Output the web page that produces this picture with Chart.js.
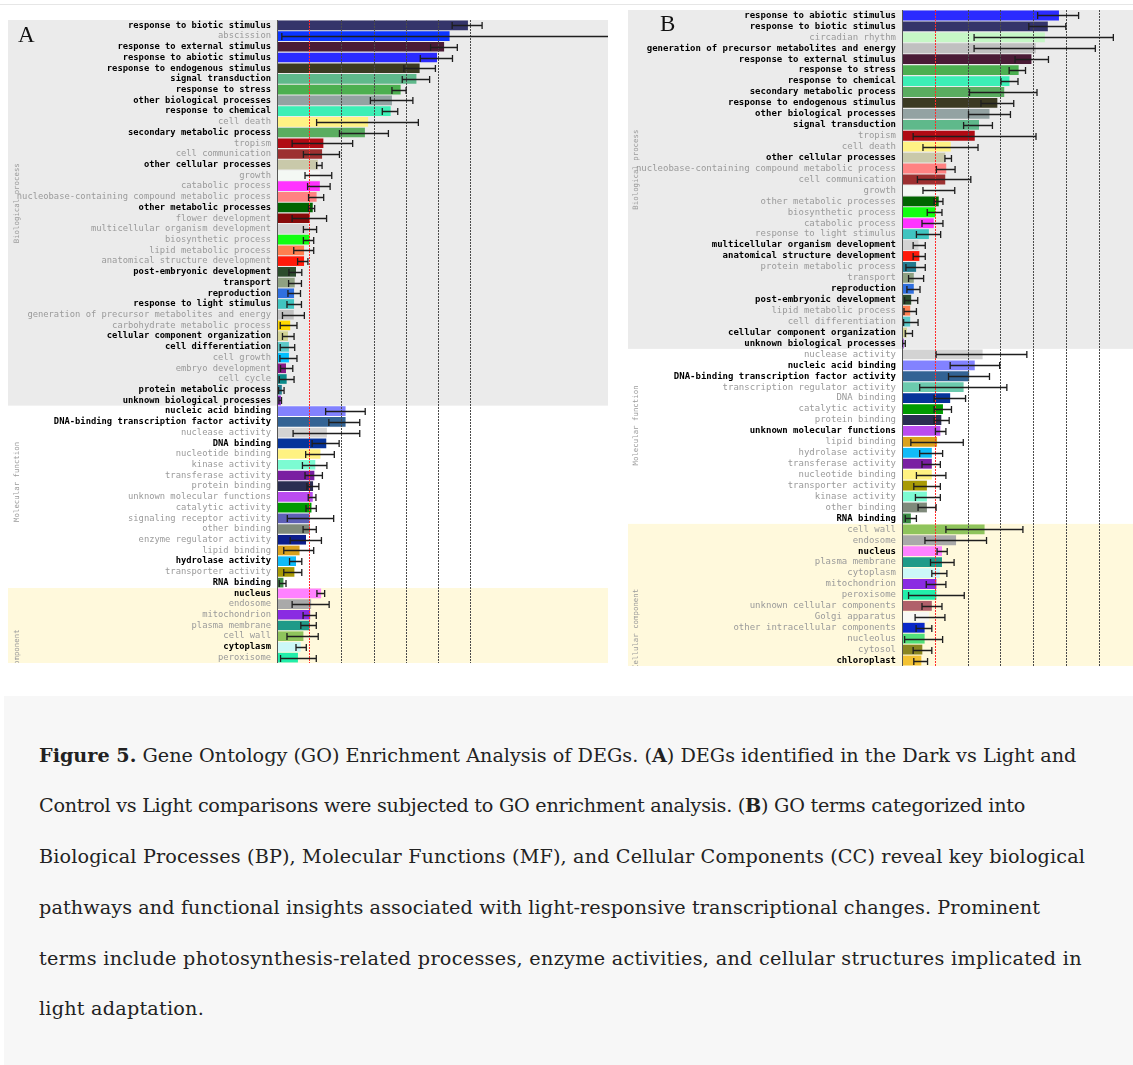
<!DOCTYPE html>
<html>
<head>
<meta charset="utf-8">
<script src="https://cdn.jsdelivr.net/npm/chart.js@4/dist/chart.umd.min.js"></script>
<style>
  html, body { margin: 0; padding: 0; background: #fff; }
  body { width: 1133px; height: 1065px; position: relative; overflow: hidden; }
  .rule { position: absolute; left: 0; top: 4px; width: 1133px; height: 1px; background: #e6e6e6; }
  .panel { position: absolute; }
  .panel canvas { display: block; }
  .letter { position: absolute; font-family: "Liberation Serif", serif; font-size: 23px; line-height: 1; color: #111; }
  .caption { position: absolute; left: 4px; top: 696px; width: 1129px; height: 369px; background: #f7f7f7; }
  .caption .ln { position: absolute; left: 35px; white-space: nowrap; font-family: "DejaVu Serif", serif; font-size: 19.2px; line-height: 22px; color: #222; }
</style>
</head>
<body>
<div class="rule"></div>

<div class="panel" style="left:8px; top:20px;"><canvas id="chartA" width="600" height="643"></canvas></div>
<div class="letter" style="left:18px; top:23px;">A</div>

<div class="panel" style="left:628px; top:10px;"><canvas id="chartB" width="505" height="656"></canvas></div>
<div class="letter" style="left:660px; top:12px;">B</div>

<div class="caption">
  <div class="ln" data-w="1037" style="top:49px;"><b>Figure 5.</b> Gene Ontology (GO) Enrichment Analysis of DEGs. (<b>A</b>) DEGs identified in the Dark vs Light and</div>
  <div class="ln" data-w="986" style="top:99px;">Control vs Light comparisons were subjected to GO enrichment analysis. (<b>B</b>) GO terms categorized into</div>
  <div class="ln" data-w="1046" style="top:150px;">Biological Processes (BP), Molecular Functions (MF), and Cellular Components (CC) reveal key biological</div>
  <div class="ln" data-w="1001" style="top:201px;">pathways and functional insights associated with light-responsive transcriptional changes. Prominent</div>
  <div class="ln" data-w="1043" style="top:252px;">terms include photosynthesis-related processes, enzyme activities, and cellular structures implicated in</div>
  <div class="ln" data-w="165" style="top:302px;">light adaptation.</div>
</div>

<script>
// ---- Panel A: Dark vs Light ----
const termsA = [
  "response to biotic stimulus", "abscission", "response to external stimulus", "response to abiotic stimulus",
  "response to endogenous stimulus", "signal transduction", "response to stress", "other biological processes",
  "response to chemical", "cell death", "secondary metabolic process", "tropism", "cell communication",
  "other cellular processes", "growth", "catabolic process", "nucleobase-containing compound metabolic process",
  "other metabolic processes", "flower development", "multicellular organism development", "biosynthetic process",
  "lipid metabolic process", "anatomical structure development", "post-embryonic development", "transport",
  "reproduction", "response to light stimulus", "generation of precursor metabolites and energy",
  "carbohydrate metabolic process", "cellular component organization", "cell differentiation", "cell growth",
  "embryo development", "cell cycle", "protein metabolic process", "unknown biological processes",
  "nucleic acid binding", "DNA-binding transcription factor activity", "nuclease activity", "DNA binding",
  "nucleotide binding", "kinase activity", "transferase activity", "protein binding", "unknown molecular functions",
  "catalytic activity", "signaling receptor activity", "other binding", "enzyme regulator activity", "lipid binding",
  "hydrolase activity", "transporter activity", "RNA binding",
  "nucleus", "endosome", "mitochondrion", "plasma membrane", "cell wall", "cytoplasm", "peroxisome"
];
const valuesA = [
  5.93, 5.36, 5.19, 4.97, 4.43, 4.33, 3.84, 3.57, 3.53, 2.83, 2.73, 1.44, 1.40, 1.27, 1.33, 1.33, 1.23, 1.11,
  1.01, 0.98, 1.01, 0.84, 0.84, 0.59, 0.55, 0.53, 0.53, 0.52, 0.41, 0.34, 0.37, 0.37, 0.28, 0.30, 0.15, 0.12,
  2.13, 2.13, 1.55, 1.53, 1.35, 1.19, 1.16, 1.12, 1.11, 1.07, 1.01, 1.02, 0.90, 0.70, 0.59, 0.54, 0.20,
  1.37, 1.06, 1.03, 1.01, 0.82, 0.74, 0.65
];
const lowA = [
  5.44, 0.15, 4.77, 4.45, 3.94, 3.89, 3.57, 2.90, 3.27, 1.23, 1.94, 0.47, 0.82, 1.23, 0.87, 0.95, 0.98, 0.98,
  0.47, 0.82, 0.82, 0.52, 0.64, 0.37, 0.36, 0.34, 0.31, 0.17, 0.10, 0.17, 0.10, 0.09, 0.11, 0.07, 0.05, 0.06,
  1.51, 1.61, 0.50, 1.09, 0.89, 0.79, 0.87, 0.93, 0.97, 0.90, 0.32, 0.81, 0.41, 0.21, 0.39, 0.21, 0.07,
  1.24, 0.47, 0.81, 0.74, 0.31, 0.59, 0.11
];
const highA = [
  6.37, 12.0, 5.60, 5.45, 4.92, 4.74, 4.01, 4.22, 3.75, 4.39, 3.46, 2.35, 1.94, 1.40, 1.70, 1.65, 1.45, 1.17,
  1.54, 1.23, 1.14, 1.14, 0.96, 0.77, 0.76, 0.73, 0.76, 0.85, 0.62, 0.53, 0.55, 0.62, 0.49, 0.53, 0.22, 0.14,
  2.74, 2.57, 2.57, 1.93, 1.78, 1.55, 1.41, 1.30, 1.21, 1.22, 1.76, 1.22, 1.38, 1.14, 0.77, 0.77, 0.28,
  1.48, 1.62, 1.22, 1.22, 1.28, 0.91, 1.22
];
const sigA = [
  "response to biotic stimulus", "response to external stimulus", "response to abiotic stimulus",
  "response to endogenous stimulus", "signal transduction", "response to stress", "other biological processes",
  "response to chemical", "secondary metabolic process", "other cellular processes", "other metabolic processes",
  "post-embryonic development", "transport", "reproduction", "response to light stimulus",
  "cellular component organization", "cell differentiation", "protein metabolic process",
  "unknown biological processes", "nucleic acid binding", "DNA-binding transcription factor activity",
  "DNA binding", "hydrolase activity", "RNA binding", "nucleus", "cytoplasm"
];
const sectionsA = [["Biological process", 36], ["Molecular function", 17], ["Cellular component", 7]];

// ---- Panel B: Control vs Light ----
const termsB = [
  "response to abiotic stimulus", "response to biotic stimulus", "circadian rhythm",
  "generation of precursor metabolites and energy", "response to external stimulus", "response to stress",
  "response to chemical", "secondary metabolic process", "response to endogenous stimulus",
  "other biological processes", "signal transduction", "tropism", "cell death", "other cellular processes",
  "nucleobase-containing compound metabolic process", "cell communication", "growth", "other metabolic processes",
  "biosynthetic process", "catabolic process", "response to light stimulus", "multicellular organism development",
  "anatomical structure development", "protein metabolic process", "transport", "reproduction",
  "post-embryonic development", "lipid metabolic process", "cell differentiation", "cellular component organization",
  "unknown biological processes",
  "nuclease activity", "nucleic acid binding", "DNA-binding transcription factor activity",
  "transcription regulator activity", "DNA binding", "catalytic activity", "protein binding",
  "unknown molecular functions", "lipid binding", "hydrolase activity", "transferase activity", "nucleotide binding",
  "transporter activity", "kinase activity", "other binding", "RNA binding",
  "cell wall", "endosome", "nucleus", "plasma membrane", "cytoplasm", "mitochondrion", "peroxisome",
  "unknown cellular components", "Golgi apparatus", "other intracellular components", "nucleolus", "cytosol",
  "chloroplast"
];
const valuesB = [
  4.79, 4.45, 4.36, 4.08, 3.95, 3.56, 3.28, 3.12, 2.91, 2.67, 2.35, 2.22, 1.49, 1.32, 1.35, 1.32, 1.15, 1.12,
  1.02, 0.97, 0.82, 0.50, 0.53, 0.43, 0.36, 0.36, 0.28, 0.25, 0.25, 0.15, 0.05,
  2.46, 2.22, 2.05, 1.88, 1.47, 1.25, 1.20, 1.17, 1.07, 0.91, 0.91, 0.91, 0.76, 0.76, 0.76, 0.27,
  2.52, 1.65, 1.22, 1.22, 1.15, 1.05, 1.05, 0.91, 0.82, 0.69, 0.69, 0.62, 0.59
];
const lowB = [
  4.14, 3.87, 2.20, 2.20, 3.45, 3.27, 3.02, 2.06, 2.41, 2.03, 1.88, 0.34, 0.64, 1.31, 1.05, 0.47, 0.64, 0.98,
  0.77, 0.61, 0.44, 0.34, 0.34, 0.12, 0.20, 0.15, 0.08, 0.06, 0.05, 0.10, 0.01,
  1.04, 1.47, 1.42, 0.54, 0.98, 0.98, 0.98, 1.02, 0.27, 0.54, 0.61, 0.44, 0.36, 0.41, 0.49, 0.10,
  1.34, 0.70, 1.07, 0.87, 0.91, 0.74, 0.20, 0.61, 0.40, 0.43, 0.08, 0.34, 0.36
];
const highB = [
  5.39, 5.00, 6.45, 5.90, 4.47, 3.77, 3.54, 4.12, 3.41, 3.31, 2.76, 4.09, 2.32, 1.51, 1.62, 2.10, 1.61, 1.25,
  1.22, 1.25, 1.18, 0.71, 0.71, 0.71, 0.66, 0.55, 0.48, 0.44, 0.49, 0.32, 0.10,
  3.81, 2.98, 2.67, 3.20, 1.94, 1.51, 1.44, 1.34, 1.87, 1.24, 1.17, 1.34, 1.17, 1.17, 1.04, 0.44,
  3.69, 2.58, 1.38, 1.59, 1.37, 1.34, 1.90, 1.22, 1.31, 0.91, 1.24, 0.91, 0.78
];
const sigB = [
  "response to abiotic stimulus", "response to biotic stimulus", "generation of precursor metabolites and energy",
  "response to external stimulus", "response to stress", "response to chemical", "secondary metabolic process",
  "response to endogenous stimulus", "other biological processes", "signal transduction", "other cellular processes",
  "multicellular organism development", "anatomical structure development", "reproduction",
  "post-embryonic development", "cellular component organization", "unknown biological processes",
  "nucleic acid binding", "DNA-binding transcription factor activity", "unknown molecular functions",
  "RNA binding", "nucleus", "chloroplast"
];
const sectionsB = [["Biological process", 31], ["Molecular function", 16], ["Cellular component", 13]];

// term colours, shared by both panels
const termColors = {
  "response to biotic stimulus": "#34346a", "abscission": "#0b35ff", "response to external stimulus": "#4a1b36",
  "response to abiotic stimulus": "#2b2bff", "response to endogenous stimulus": "#3b3a22",
  "signal transduction": "#5fb98b", "response to stress": "#4caf50", "other biological processes": "#93a2a2",
  "response to chemical": "#3cefb6", "cell death": "#fff284", "secondary metabolic process": "#5aad60",
  "tropism": "#b00b14", "cell communication": "#9c3030", "other cellular processes": "#c9c9aa",
  "growth": "#f4f8f4", "catabolic process": "#ff33ff",
  "nucleobase-containing compound metabolic process": "#ff8282", "other metabolic processes": "#006400",
  "flower development": "#870a0a", "multicellular organism development": "#d3d3d3",
  "biosynthetic process": "#11ff11", "lipid metabolic process": "#ff7f50",
  "anatomical structure development": "#ff1a0a", "post-embryonic development": "#2c4c2c",
  "transport": "#8fa182", "reproduction": "#2f6fdf", "response to light stimulus": "#40c4c0",
  "generation of precursor metabolites and energy": "#c0c0c0", "carbohydrate metabolic process": "#ffd700",
  "cellular component organization": "#d2d294", "cell differentiation": "#5cc9c9", "cell growth": "#00bfff",
  "embryo development": "#851a85", "cell cycle": "#0b8b8b", "protein metabolic process": "#237a8f",
  "unknown biological processes": "#8a22c8", "circadian rhythm": "#c6f7c6",
  "nucleic acid binding": "#8282ff", "DNA-binding transcription factor activity": "#336394",
  "nuclease activity": "#d3d3d3", "transcription regulator activity": "#6ccaae", "DNA binding": "#06339a",
  "nucleotide binding": "#fff282", "kinase activity": "#7cfbd2", "transferase activity": "#7a1fa2",
  "protein binding": "#2a2d52", "unknown molecular functions": "#ba4cf0", "catalytic activity": "#009a00",
  "signaling receptor activity": "#5e60b6", "other binding": "#7f8a7b", "enzyme regulator activity": "#0c1e8c",
  "lipid binding": "#daa21e", "hydrolase activity": "#10bbf8", "transporter activity": "#a89a06",
  "RNA binding": "#3c8c44", "nucleus": "#ff82ff", "endosome": "#a9a9a9", "mitochondrion": "#8a2be2",
  "plasma membrane": "#1f9a88", "cell wall": "#8fc45c", "cytoplasm": "#ccf8f8", "peroxisome": "#22eeaa",
  "unknown cellular components": "#b0606a", "Golgi apparatus": "#f8f8f4",
  "other intracellular components": "#0a28c8", "nucleolus": "#52e07a", "cytosol": "#8a8622",
  "chloroplast": "#f3c232"
};
const sectionFill = ["#ebebeb", "#ffffff", "#fff9dc"];

// bands, side titles, reference lines and error bars
const goPanel = {
  id: "goPanel",
  beforeDraw(chart, args, o) {
    const ctx = chart.ctx, y = chart.scales.y;
    let start = 0;
    ctx.save();
    o.sections.forEach((s, i) => {
      const top = y.getPixelForValue(start - 0.5);
      const bot = y.getPixelForValue(start + s[1] - 0.5);
      ctx.fillStyle = sectionFill[i];
      ctx.fillRect(0, top, chart.width, bot - top);
      start += s[1];
    });
    ctx.fillStyle = "#9c9c9c";
    ctx.font = "7.4px 'DejaVu Sans Mono'";
    ctx.textAlign = "center";
    ctx.textBaseline = "middle";
    o.sections.forEach((s, i) => {
      const cy = y.getPixelForValue(o.titleRows[i]);
      ctx.save();
      ctx.translate(o.titleX, cy);
      ctx.rotate(-Math.PI / 2);
      ctx.fillText(s[0], 0, 0);
      ctx.restore();
    });
    ctx.restore();
  },
  afterDatasetsDraw(chart, args, o) {
    const ctx = chart.ctx, x = chart.scales.x, y = chart.scales.y, a = chart.chartArea;
    ctx.save();
    ctx.beginPath();
    ctx.rect(a.left, a.top, a.right - a.left + 1, a.bottom - a.top);
    ctx.clip();
    // fold lines
    ctx.lineWidth = 1;
    ctx.setLineDash([2, 1]);
    [1, 2, 3, 4, 5, 6].forEach(v => {
      const px = Math.round(x.getPixelForValue(v)) + 0.5;
      ctx.strokeStyle = v === 1 ? "#ff2a2a" : "#4a4a4a";
      ctx.beginPath(); ctx.moveTo(px, a.top); ctx.lineTo(px, a.bottom); ctx.stroke();
    });
    ctx.setLineDash([]);
    ctx.strokeStyle = "#555";
    ctx.beginPath(); ctx.moveTo(a.left + 0.5, a.top); ctx.lineTo(a.left + 0.5, a.bottom); ctx.stroke();
    // error bars
    ctx.strokeStyle = "#1e1e1e";
    ctx.lineWidth = 1.3;
    o.low.forEach((lo, i) => {
      const cy = Math.round(y.getPixelForValue(i)) + 0.5;
      const x1 = x.getPixelForValue(lo), x2 = x.getPixelForValue(o.high[i]);
      ctx.beginPath();
      ctx.moveTo(x1, cy); ctx.lineTo(x2, cy);
      ctx.moveTo(x1, cy - 3.5); ctx.lineTo(x1, cy + 3.5);
      ctx.moveTo(x2, cy - 3.5); ctx.lineTo(x2, cy + 3.5);
      ctx.stroke();
    });
    ctx.restore();
  }
};

function makePanel(id, terms, values, low, high, sig, sections, cfg) {
  return new Chart(document.getElementById(id), {
    type: "bar",
    data: {
      labels: terms,
      datasets: [{
        data: values,
        backgroundColor: terms.map(t => termColors[t]),
        borderWidth: 0,
        barPercentage: 0.9,
        categoryPercentage: 1.0
      }]
    },
    options: {
      indexAxis: "y",
      responsive: false,
      animation: false,
      events: [],
      layout: { padding: 0 },
      plugins: {
        legend: { display: false },
        tooltip: { enabled: false },
        goPanel: { sections, low, high, titleX: cfg.titleX, titleRows: cfg.titleRows }
      },
      scales: {
        x: { type: "linear", min: 0, max: cfg.xMax, display: false },
        y: {
          grid: { display: false, drawTicks: false },
          border: { display: false },
          afterFit: s => { s.width = cfg.axisWidth; s.paddingTop = 0; s.paddingBottom = 0; },
          ticks: {
            autoSkip: false,
            padding: 6,
            color: c => sig.includes(terms[c.index]) ? "#000" : "#9a9a9a",
            font: c => ({ family: "'DejaVu Sans Mono', monospace", size: cfg.fontSize,
                          weight: sig.includes(terms[c.index]) ? "bold" : "normal" })
          }
        }
      }
    },
    plugins: [goPanel]
  });
}

makePanel("chartA", termsA, valuesA, lowA, highA, sigA, sectionsA,
  { xMax: 10.28, axisWidth: 269, fontSize: 8.8, titleX: 9, titleRows: [16.6, 42.6, 60.1] });
makePanel("chartB", termsB, valuesB, lowB, highB, sigB, sectionsB,
  { xMax: 7.05, axisWidth: 274, fontSize: 9, titleX: 8, titleRows: [14.1, 37.5, 56.1] });

// stretch each caption line to its column width
document.querySelectorAll(".caption .ln").forEach(el => {
  const want = Number(el.dataset.w);
  const have = el.getBoundingClientRect().width;
  const n = el.textContent.length;
  if (n > 1) el.style.letterSpacing = ((want - have) / n).toFixed(3) + "px";
});
</script>
</body>
</html>
